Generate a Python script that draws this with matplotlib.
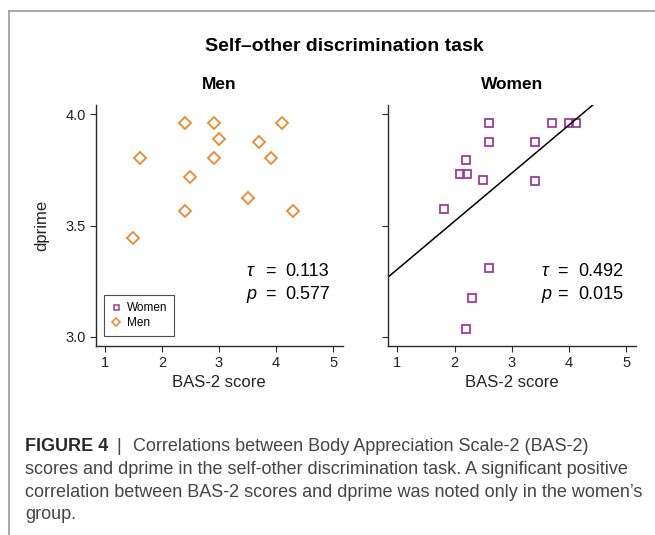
import numpy as np
import matplotlib
matplotlib.use("Agg")
import matplotlib.pyplot as plt
from matplotlib.lines import Line2D

# ---------------- data ----------------
men_bas = [2.41, 2.91, 4.11, 3.00, 3.70, 1.61, 2.91, 3.91, 2.50, 3.50, 2.41, 4.30, 1.50]
men_dprime = [3.96, 3.96, 3.96, 3.888, 3.877, 3.804, 3.804, 3.804, 3.72, 3.622, 3.564, 3.564, 3.444]
women_bas = [2.61, 3.71, 4.00, 4.12, 2.61, 3.41, 2.20, 2.10, 2.21, 2.50, 3.41, 1.81, 2.61, 2.31, 2.20]
women_dprime = [3.96, 3.96, 3.96, 3.96, 3.877, 3.877, 3.795, 3.73, 3.73, 3.706, 3.70, 3.574,
                3.31, 3.174, 3.036]
men_stats = ["0.113", "0.577"]
women_stats = ["0.492", "0.015"]
x_ticks = [1, 2, 3, 4, 5]
x_tick_labels = ["1", "2", "3", "4", "5"]
y_ticks = [3.0, 3.5, 4.0]
y_tick_labels = ["3.0", "3.5", "4.0"]
panel_titles = ["Men", "Women"]
legend_labels = ["Women", "Men"]
main_title = "Self\u2013other discrimination task"
x_label = "BAS-2 score"
y_label = "dprime"
caption_bold = "FIGURE 4"
caption_lines = [
    "Correlations between Body Appreciation Scale-2 (BAS-2)",
    "scores and dprime in the self-other discrimination task. A significant positive",
    "correlation between BAS-2 scores and dprime was noted only in the women\u2019s",
    "group.",
]

# ---------------- style ----------------
W, H = 655, 535
ORANGE = "#EF8630"
PURPLE = "#A03A9C"
AX_COL = "#2b2b2b"
FONT = ["Liberation Sans", "DejaVu Sans"]
plt.rcParams["font.family"] = FONT

XLIM = (0.843, 5.164)
YLIM = (2.96, 4.042)


def fx(px):
    return px / W


def fy(py):
    return 1 - py / H


fig = plt.figure(figsize=(W / 100, H / 100), dpi=100)

ax_m = fig.add_axes([fx(95.7), fy(345.7), 247.0 / W, 240.7 / H])
ax_w = fig.add_axes([fx(388.3), fy(345.7), 247.4 / W, 240.7 / H])

for ax in (ax_m, ax_w):
    for s in ("top", "right"):
        ax.spines[s].set_visible(False)
    for s in ("left", "bottom"):
        ax.spines[s].set_color(AX_COL)
        ax.spines[s].set_linewidth(1.0)
    ax.set_xticks(x_ticks)
    ax.set_xticklabels(x_tick_labels)
    ax.set_yticks(y_ticks)
    ax.set_yticklabels(y_tick_labels)
    ax.tick_params(direction="out", length=4.3, width=0.8, colors=AX_COL,
                   labelsize=10.5, pad=3, labelcolor="#222222")
    ax.patch.set_alpha(0)

ax_w.tick_params(axis="y", labelleft=False)

# scatter points
ax_m.plot(men_bas, men_dprime, linestyle="none", marker="D", ms=6.3,
          mfc="none", mec=ORANGE, mew=1.3)
ax_w.plot(women_bas, women_dprime, linestyle="none", marker="s", ms=6.0,
          mfc="none", mec=PURPLE, mew=1.3)

# linear fit for women
slope, intercept = np.polyfit(women_bas, women_dprime, 1)
xs = np.array(XLIM)
ax_w.plot(xs, intercept + slope * xs, color="black", lw=1.1)

for ax in (ax_m, ax_w):
    ax.set_xlim(*XLIM)
    ax.set_ylim(*YLIM)

# statistics text
def stats(ax, vals, tau_x, eq_x, val_x):
    for sym, val, yb in zip(["\u03c4", "p"], vals, [0.291, 0.195]):
        ax.text(tau_x, yb, sym, transform=ax.transAxes, ha="left", va="baseline",
                fontsize=13, fontstyle="italic")
        ax.text(eq_x, yb, "=", transform=ax.transAxes, ha="center", va="baseline",
                fontsize=13)
        ax.text(val_x, yb, val, transform=ax.transAxes, ha="left", va="baseline",
                fontsize=13)

stats(ax_m, men_stats, 0.611, 0.707, 0.766)
stats(ax_w, women_stats, 0.620, 0.704, 0.767)

# legend
handles = [
    Line2D([], [], linestyle="none", marker="s", ms=3.6, mfc="none", mec=PURPLE, mew=1.1),
    Line2D([], [], linestyle="none", marker="D", ms=3.6, mfc="none", mec=ORANGE, mew=1.1),
]
leg = ax_m.legend(handles, legend_labels, loc="lower left",
                  bbox_to_anchor=(0.035, 0.0415), borderaxespad=0,
                  fontsize=8.5, frameon=True, fancybox=False,
                  borderpad=0.55, handlelength=0.8, handletextpad=0.55,
                  labelspacing=0.3)
leg.get_frame().set_edgecolor("#222222")
leg.get_frame().set_linewidth(0.8)

# titles and labels
fig.text(fx(344), fy(51), main_title, ha="center", va="baseline",
         fontsize=14, fontweight="bold")
for ax, t in zip((ax_m, ax_w), panel_titles):
    bb = ax.get_position()
    cx = (bb.x0 + bb.x1) / 2
    fig.text(cx, fy(89.3), t, ha="center", va="baseline", fontsize=12.5,
             fontweight="bold")
    fig.text(cx, fy(386.7), x_label, ha="center", va="baseline", fontsize=12,
             color="#222222")
fig.text(fx(41.7), fy(225.3), y_label, rotation=90, ha="center", va="center",
         fontsize=12, color="#222222")

# outer frame lines
fig.add_artist(Line2D([fx(9), 1.0], [fy(10.7), fy(10.7)], transform=fig.transFigure,
                      color="#9a9a9a", lw=1.2))
fig.add_artist(Line2D([fx(9), fx(9)], [fy(10.7), 0.0], transform=fig.transFigure,
                      color="#9a9a9a", lw=1.2))

# caption
CAP_COL = "#444444"
CAP_SIZE = 13.0
baselines = [451, 474.3, 496.7, 519.3]
fig.text(fx(25), fy(baselines[0]), caption_bold, ha="left", va="baseline",
         fontsize=13, fontweight="bold", color="#2a2a2a")
fig.text(fx(118.3), fy(baselines[0]), "|", ha="center", va="baseline",
         fontsize=CAP_SIZE, color=CAP_COL)
fig.text(fx(133.3), fy(baselines[0]), caption_lines[0], ha="left", va="baseline",
         fontsize=CAP_SIZE, color=CAP_COL)
for line, yb in zip(caption_lines[1:], baselines[1:]):
    fig.text(fx(25), fy(yb), line, ha="left", va="baseline",
             fontsize=CAP_SIZE, color=CAP_COL)

fig.savefig("out.png", dpi=100)
